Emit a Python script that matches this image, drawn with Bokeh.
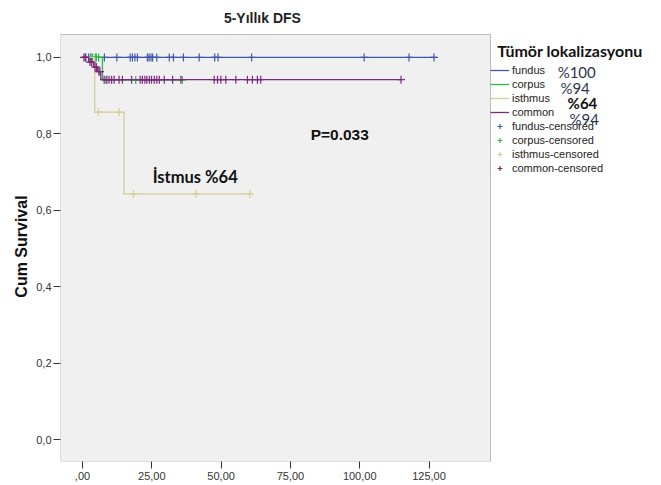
import numpy as np
from bokeh.plotting import figure
from bokeh.models import Range1d, FixedTicker, Legend, LegendItem, Label, BoxAnnotation
from bokeh.embed import file_html
from bokeh.resources import INLINE

# ---- data ----
fundus_t = [0.0, 127.7]
fundus_s = [1.0, 1.0]
fundus_c = [1.2, 2.2, 3.0, 7.9, 12.4, 17.2, 18.0, 18.9, 19.8, 23.4, 24.0, 24.7, 25.3,
            26.8, 31.3, 32.8, 36.4, 42.1, 47.7, 48.9, 61.0, 101.6, 117.8, 126.8]

corpus_t = [0.0, 7.2, 36.0]
corpus_s = [1.0, 0.941, 0.941]
corpus_c = [2.9, 3.6, 4.6, 5.0, 5.8, 8.4, 19.2, 36.0]

isthmus_t = [0.0, 4.4, 15.0, 60.4]
isthmus_s = [1.0, 0.857, 0.643, 0.643]
isthmus_c = [5.7, 13.2, 18.4, 40.9, 60.4]

common_t = [0.0, 2.2, 4.0, 5.4, 6.6, 114.9]
common_s = [1.0, 0.988, 0.975, 0.963, 0.942, 0.942]
common_c = [0.5, 1.0, 2.7, 3.3, 4.5, 5.0, 5.9, 6.3, 7.8, 8.8, 9.6, 10.5, 11.4, 13.2,
            14.4, 17.7, 20.8, 21.6, 22.5, 23.2, 24.1, 24.9, 25.9, 26.8, 27.7, 29.5,
            32.5, 35.5, 47.5, 48.7, 49.9, 51.7, 55.3, 59.5, 61.3, 63.1, 64.3, 114.9]

groups = ["fundus", "corpus", "isthmus", "common"]
pct_labels = ["%100", "%94", "%64", "%94"]
x_ticks = [0, 25, 50, 75, 100, 125]
x_tick_labels = [",00", "25,00", "50,00", "75,00", "100,00", "125,00"]
y_ticks = [0.0, 0.2, 0.4, 0.6, 0.8, 1.0]
y_tick_labels = ["0,0", "0,2", "0,4", "0,6", "0,8", "1,0"]

colors = ["#3E58AC", "#2EB848", "#D3CE97", "#7C287D"]

curves = {
    "fundus": (fundus_t, fundus_s, fundus_c),
    "corpus": (corpus_t, corpus_s, corpus_c),
    "isthmus": (isthmus_t, isthmus_s, isthmus_c),
    "common": (common_t, common_s, common_c),
}

FONT = "Liberation Sans"
NB = "\u00a0"

# plot box (grey area) limits in data units
BX0, BX1, BY0, BY1 = -7.94, 147.2, -0.057, 1.06

p = figure(frame_width=585, frame_height=461, output_backend="svg", toolbar_location=None,
           x_range=Range1d(BX0, 203.1), y_range=Range1d(BY0, 1.149),
           min_border_left=60, min_border_top=0, min_border_right=0, title=None)

p.background_fill_color = "white"
p.border_fill_color = "white"
p.outline_line_color = None
p.xgrid.visible = False
p.ygrid.visible = False

p.add_layout(BoxAnnotation(left=BX0, right=BX1, bottom=BY0, top=BY1,
                           fill_color="#F0F0F0", fill_alpha=1.0,
                           line_color="#333333", line_width=1, level="underlay"))

p.xaxis.ticker = FixedTicker(ticks=x_ticks)
p.xaxis.major_label_overrides = {t: l for t, l in zip(x_ticks, x_tick_labels)}
p.yaxis.ticker = FixedTicker(ticks=y_ticks)
p.yaxis.major_label_overrides = {t: l for t, l in zip(y_ticks, y_tick_labels)}
for ax in (p.xaxis, p.yaxis):
    ax.axis_line_color = None
    ax.major_tick_line_color = "#333333"
    ax.minor_tick_line_color = None
    ax.major_tick_in = 0
    ax.major_label_text_font = FONT
    ax.major_label_text_font_size = "11px"
    ax.major_label_text_color = "#333333"
p.xaxis.major_tick_out = 7
p.xaxis.major_label_standoff = 3
p.yaxis.major_tick_out = 7
p.yaxis.major_label_standoff = 2
p.yaxis.axis_label = "Cum Survival" + NB * 7
p.yaxis.axis_label_text_font = FONT
p.yaxis.axis_label_text_font_size = "16px"
p.yaxis.axis_label_text_font_style = "bold"
p.yaxis.axis_label_text_color = "#111111"
p.yaxis.axis_label_standoff = 3

line_items = []
cens_items = []
for g, col in zip(groups, colors):
    t, s, c = curves[g]
    t = np.array(t)
    s = np.array(s)
    c = np.array(c)
    idx = np.searchsorted(t, c, side="right") - 1
    cy = s[idx]
    r_line = p.step(t, s, mode="after", line_color=col, line_width=1.3)
    r_c = p.scatter(c, cy, marker="cross", size=8, line_color=col, line_width=1.2)
    line_items.append(LegendItem(label=g, renderers=[r_line]))
    cens_items.append(LegendItem(label=g + "-censored", renderers=[r_c]))

legend = Legend(items=line_items + cens_items, location=(430, 287),
                title=NB * 2 + "Tümör lokalizasyonu", title_text_font="Lato",
                title_text_font_size="16px", title_text_font_style="bold",
                title_text_color="#111111", title_standoff=4,
                label_text_font=FONT, label_text_font_size="11px",
                label_text_color="#222222", label_height=12, glyph_height=12,
                glyph_width=19, label_standoff=3, spacing=2, padding=2, margin=0,
                border_line_color=None, background_fill_alpha=0)
p.add_layout(legend)

p.add_layout(Label(x=64.9, y=1.102, text="5-Yıllık DFS", text_font=FONT,
                   text_font_size="14px", text_font_style="bold", text_color="#222222",
                   text_align="center", text_baseline="middle"))

# percentage notes next to legend entries
pct_x = [171.4, 172.4, 175.0, 175.7]
pct_y = [0.961, 0.919, 0.880, 0.840]
for i, (txt, xx, yy) in enumerate(zip(pct_labels, pct_x, pct_y)):
    p.add_layout(Label(x=xx, y=yy, text=txt, text_font="Lato", text_font_size="15px",
                       text_font_style="bold" if i == 2 else "normal",
                       text_color="#111111" if i == 2 else "#2b3550",
                       text_baseline="middle"))

p.add_layout(Label(x=82.3, y=0.798, text="P=0.033", text_font=FONT,
                   text_font_size="15.5px", text_font_style="bold",
                   text_color="#111111", text_baseline="middle"))
p.add_layout(Label(x=25.3, y=0.687, text="İstmus %64", text_font="Lato",
                   text_font_size="16.5px", text_font_style="bold",
                   text_color="#111111", text_baseline="middle"))

open("out.html", "w").write(file_html(p, INLINE))
